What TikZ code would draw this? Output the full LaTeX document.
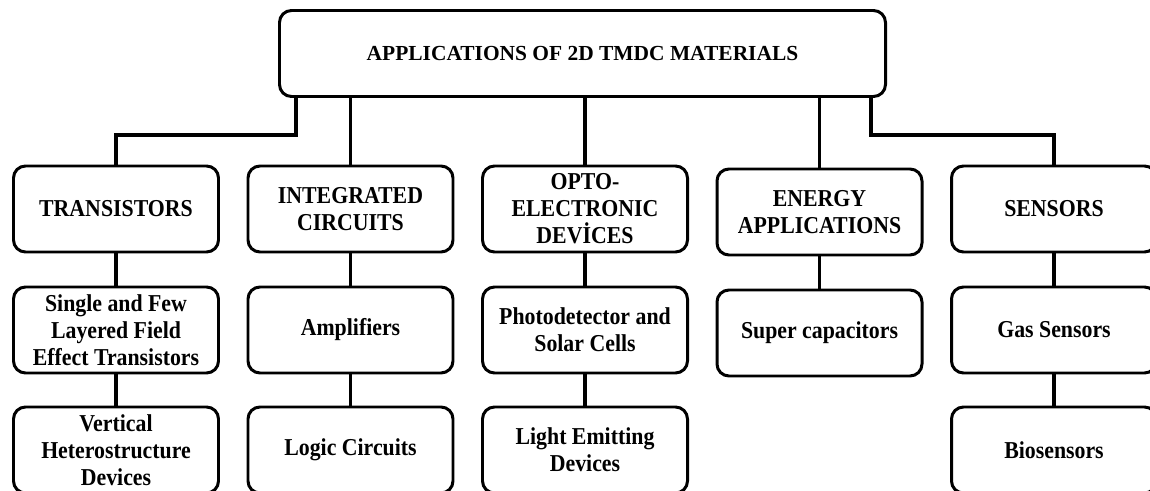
\documentclass[tikz,border=0pt]{standalone}
\usepackage{fontspec}
\setmainfont[FakeStretch=0.9]{Liberation Serif}
\newfontfamily\titlefont{Liberation Serif}
\usetikzlibrary{positioning}

\begin{document}
\begin{tikzpicture}[node distance=4.69cm,
    box/.style={draw, rectangle, rounded corners=0.24cm, line width=1.7pt,
        minimum width=4.1cm, minimum height=1.72cm, align=center, inner sep=2pt,
        font=\fontsize{13.8}{15.3}\selectfont\bfseries},
    link/.style={line width=2.2pt}]
    \useasboundingbox (0,0) rectangle (23,-9.82);

    % Nodes
    \node (app) [box, minimum width=12.12cm, minimum height=1.72cm,
        font=\titlefont\fontsize{12.2}{14.7}\selectfont\bfseries] at (11.65,-1.07) {APPLICATIONS OF 2D TMDC MATERIALS};

    \node (tran) [box] at (2.32,-4.18) {TRANSISTORS};
    \node (ic) [box, right of=tran] {INTEGRATED\\CIRCUITS};
    \node (opto) [box, right of=ic] {OPTO-\\ELECTRONIC\\DEVİCES};
    \node (energy) [box, right of=opto, yshift=-0.06cm] {ENERGY\\APPLICATIONS};
    \node (sens) [box, right of=energy, yshift=0.06cm] {SENSORS};

    \node (fet) [box, below of=tran, node distance=2.42cm] {Single and Few\\Layered Field\\Effect Transistors};
    \node (vert) [box, below of=fet, node distance=2.4cm] {Vertical\\Heterostructure\\Devices};
    \node (amp) [box, below of=ic, node distance=2.42cm] {Amplifiers};
    \node (logic) [box, below of=amp, node distance=2.4cm] {Logic Circuits};
    \node (photo) [box, below of=opto, node distance=2.42cm] {Photodetector and\\Solar Cells};
    \node (led) [box, below of=photo, node distance=2.4cm] {Light Emitting\\Devices};
    \node (cap) [box, below of=energy, node distance=2.42cm] {Super capacitors};
    \node (gas) [box, below of=sens, node distance=2.42cm] {Gas Sensors};
    \node (bio) [box, below of=gas, node distance=2.4cm] {Biosensors};

    % Connections
    \draw[link] ([xshift=0.36cm]app.south west) -- ++(0,-0.74) -| (tran.north);
    \draw[link] (app.south -| ic.north) -- (ic.north);
    \draw[link] (app.south -| opto.north) -- (opto.north);
    \draw[link] (app.south -| energy.north) -- (energy.north);
    \draw[link] ([xshift=-0.32cm]app.south east) -- ++(0,-0.74) -| (sens.north);

    \draw[link] (tran) -- (fet);
    \draw[link] (fet) -- (vert);
    \draw[link] (ic) -- (amp);
    \draw[link] (amp) -- (logic);
    \draw[link] (opto) -- (photo);
    \draw[link] (photo) -- (led);
    \draw[link] (energy) -- (cap);
    \draw[link] (sens) -- (gas);
    \draw[link] (gas) -- (bio);
\end{tikzpicture}
\end{document}
